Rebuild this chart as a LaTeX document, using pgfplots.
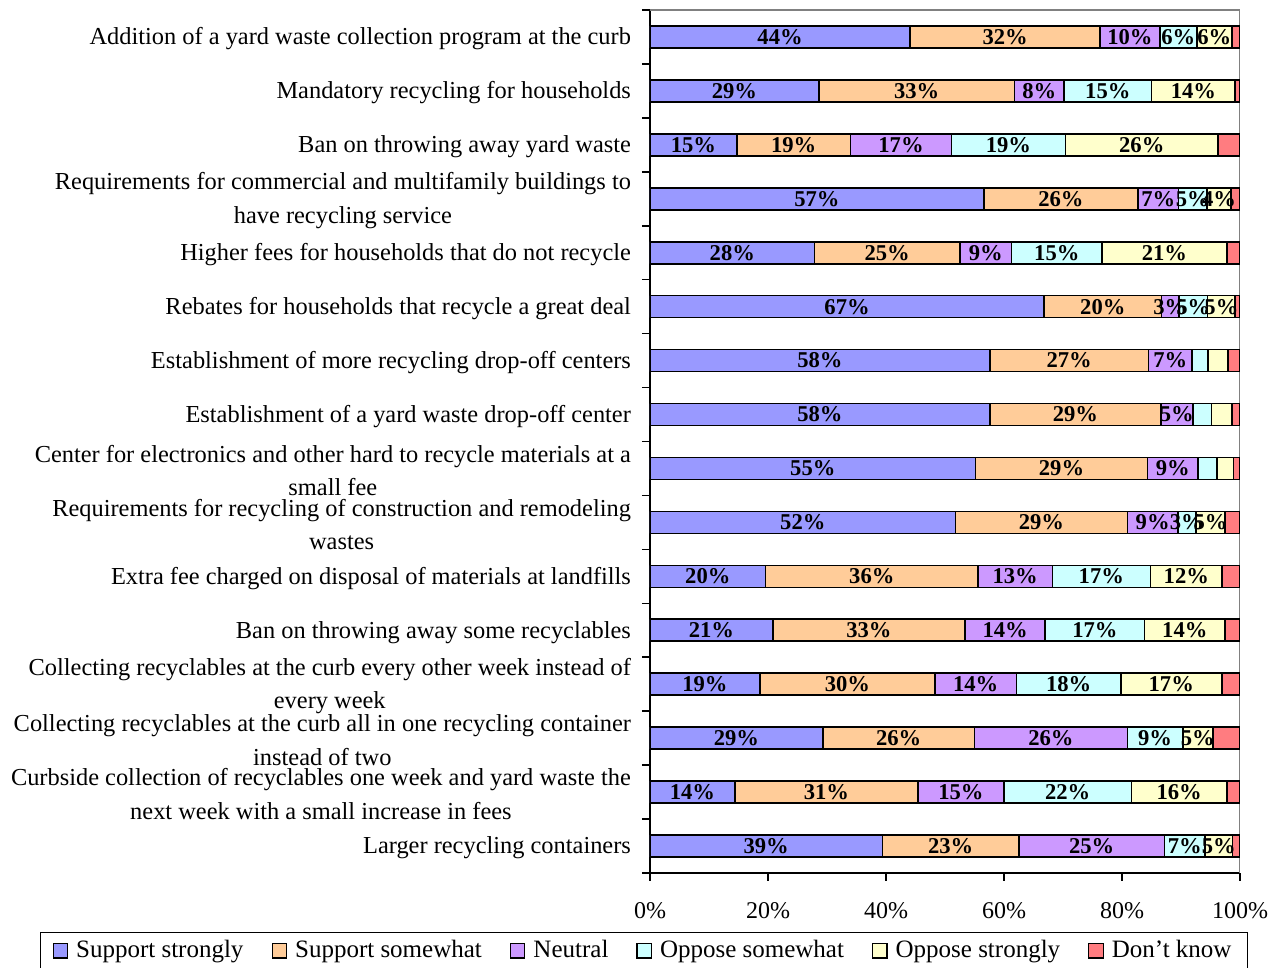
\documentclass[border=0pt]{standalone}
\usepackage{pgfplots}
\pgfplotsset{compat=1.18}
\usepackage{pgfplotstable}
\usepackage{fontspec}
\setmainfont{Liberation Serif}

\definecolor{cSS}{HTML}{9999FF}
\definecolor{cSW}{HTML}{FFCC99}
\definecolor{cNE}{HTML}{CC99FF}
\definecolor{cOS}{HTML}{CCFFFF}
\definecolor{cST}{HTML}{FFFFCC}
\definecolor{cDK}{HTML}{FF7C80}

% y: 15 = top row, 0 = bottom row; sos/sst: 1 = label shown
\pgfplotstableread{
y  ss   sw   ne   os   st   dk  sos sst
15 44.1 32.2 10.1 6.3  5.9  1.4 1 1
14 28.6 33.2 8.4  14.8 14.2 0.8 1 1
13 14.7 19.3 17.1 19.3 25.9 3.7 1 1
12 56.6 26.1 6.9  4.8  4.1  1.5 1 1
11 27.9 24.6 8.8  15.3 21.2 2.2 1 1
10 66.8 19.9 3.0  4.8  4.7  0.8 1 1
9  57.6 26.9 7.4  2.7  3.4  2.0 0 0
8  57.6 29.0 5.4  3.2  3.4  1.4 0 0
7  55.2 29.1 8.6  3.2  2.8  1.1 0 0
6  51.8 29.1 8.6  3.0  5.0  2.5 1 1
5  19.6 36.0 12.6 16.6 12.2 3.0 1 1
4  20.8 32.6 13.6 16.8 13.7 2.5 1 1
3  18.6 29.7 13.8 17.7 17.1 3.1 1 1
2  29.3 25.7 25.9 9.4  5.1  4.6 1 1
1  14.4 31.0 14.6 21.6 16.2 2.2 1 1
0  39.4 23.1 24.7 6.9  4.6  1.3 1 1
}\data

\tikzset{barlab/.style={font=\bfseries\fontsize{11.3}{13}\selectfont, inner sep=0pt, anchor=center}}
\pgfplotsset{
  labA/.style={
    visualization depends on={\thisrow{#1} \as \rawv},
    nodes near coords={\pgfmathprintnumber[fixed,precision=0]{\rawv}\%},
    every node near coord/.append style={barlab}},
  labB/.style 2 args={
    visualization depends on={\thisrow{#1} \as \rawv},
    visualization depends on={\thisrow{#2} \as \lflag},
    nodes near coords={\ifdim\lflag pt>0.5pt \pgfmathprintnumber[fixed,precision=0]{\rawv}\%\fi},
    every node near coord/.append style={barlab}},
}

\begin{document}
\begin{tikzpicture}
\path[use as bounding box] (0,0) rectangle (643.5pt,484pt);
\begin{axis}[
  at={(325pt,47.5pt)}, anchor=south west,
  scale only axis, width=295pt, height=431.5pt,
  xbar stacked, bar width=11pt,
  xmin=0, xmax=100, ymin=-0.5, ymax=15.5, enlargelimits=false,
  axis x line*=bottom, axis y line*=left,
  axis line style={-, black, line width=0.8pt},
  tick align=outside, major tick length=4pt,
  tick style={black, line width=0.8pt},
  /pgf/number format/assume math mode=true,
  xtick={0,20,...,100},
  xticklabel={\pgfmathprintnumber{\tick}\%},
  xticklabel style={font=\fontsize{12}{14}\selectfont, yshift=-7pt},
  ytick={-0.5,0.5,...,15.5}, yticklabels={},
  extra y ticks={0,1,...,15},
  extra y tick style={major tick length=0pt},
  extra y tick labels={
    {Larger recycling containers},
    {Curbside collection of recyclables one week and yard waste the\\next week with a small increase in fees},
    {Collecting recyclables at the curb all in one recycling container\\instead of two},
    {Collecting recyclables at the curb every other week instead of\\every week},
    {Ban on throwing away some recyclables},
    {Extra fee charged on disposal of materials at landfills},
    {Requirements for recycling of construction and remodeling\\wastes},
    {Center for electronics and other hard to recycle materials at a\\small fee},
    {Establishment of a yard waste drop-off center},
    {Establishment of more recycling drop-off centers},
    {Rebates for households that recycle a great deal},
    {Higher fees for households that do not recycle},
    {Requirements for commercial and multifamily buildings to\\have recycling service},
    {Ban on throwing away yard waste},
    {Mandatory recycling for households},
    {Addition of a yard waste collection program at the curb}},
  yticklabel style={font=\fontsize{12.2}{16.8}\selectfont, align=center, anchor=east, xshift=-6pt, yshift=-1pt},
  legend columns=6,
  legend cell align=left,
  legend image code/.code={\draw[#1, line width=0.6pt] (0pt,-3.6pt) rectangle (7.2pt,3.6pt);},
  legend style={at={(-1.034,-0.0684)}, anchor=north west, draw=black, line width=0.6pt,
    font=\fontsize{12.5}{14}\selectfont, inner xsep=6pt, inner ysep=2pt,
    /tikz/every odd column/.append style={column sep=2pt},
    /tikz/every even column/.append style={column sep=12pt}},
]
\addplot[fill=cSS, draw=black, line width=0.8pt, labA=ss] table[x=ss, y=y]{\data};
\addplot[fill=cSW, draw=black, line width=0.8pt, labA=sw] table[x=sw, y=y]{\data};
\addplot[fill=cNE, draw=black, line width=0.8pt, labA=ne] table[x=ne, y=y]{\data};
\addplot[fill=cOS, draw=black, line width=0.8pt, labB={os}{sos}] table[x=os, y=y]{\data};
\addplot[fill=cST, draw=black, line width=0.8pt, labB={st}{sst}] table[x=st, y=y]{\data};
\addplot[fill=cDK, draw=black, line width=0.8pt] table[x=dk, y=y]{\data};
\legend{Support strongly, Support somewhat, Neutral, Oppose somewhat, Oppose strongly, Don’t know}
\draw[gray, line width=0.8pt] (rel axis cs:0,1) -- (rel axis cs:1,1) -- (rel axis cs:1,0);
\end{axis}
\end{tikzpicture}
\end{document}
